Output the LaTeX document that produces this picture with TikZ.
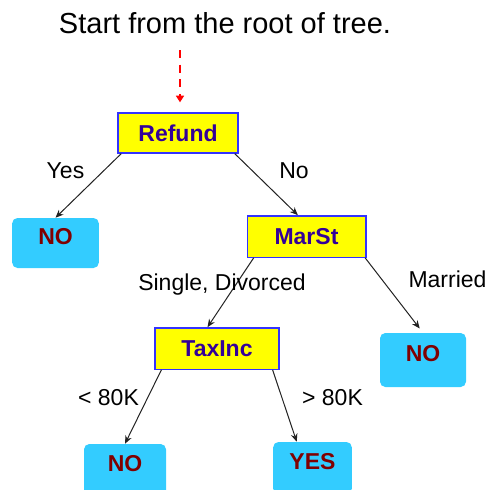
\documentclass[tikz,border=0pt]{standalone}
\usepackage{fontspec}
\setmainfont{Liberation Sans}
\usepackage{tikz}
\usetikzlibrary{positioning,arrows.meta}
\definecolor{attrFill}{HTML}{FFFF00}
\definecolor{attrDraw}{HTML}{3333FF}
\definecolor{attrText}{HTML}{330099}
\definecolor{leafFill}{HTML}{33CCFF}
\definecolor{leafText}{HTML}{800000}
\definecolor{edgeGray}{HTML}{222222}
\definecolor{startRed}{HTML}{FF0000}
\tikzset{
  attr/.style={rectangle, draw=attrDraw, fill=attrFill, line width=1pt,
               minimum height=30pt, inner sep=0pt, text=attrText,
               font=\fontsize{17.25}{20}\selectfont\bfseries},
  leaf/.style={rectangle, rounded corners=4pt, fill=leafFill, minimum height=39pt,
               inner sep=0pt, text height=12.75pt, text depth=10.5pt, text=leafText,
               font=\fontsize{17.25}{20}\selectfont\bfseries},
  lbl/.style={anchor=base, inner sep=0pt, font=\fontsize{17.25}{20}\selectfont},
  title/.style={anchor=base, inner sep=0pt, font=\fontsize{21.75}{26}\selectfont},
  branch/.style={-{Stealth[length=6pt, width=5pt]}, line width=0.75pt, draw=edgeGray},
  startflow/.style={-{Triangle[length=5pt, width=6pt]}, line width=1.5pt, draw=startRed,
                    dash pattern=on 6pt off 5pt}
}
\begin{document}
\begin{tikzpicture}[x=0.75pt, y=-0.75pt]
\useasboundingbox (0,0) rectangle (488,490);
\node[title] (head) at (225,33) {Start from the root of tree.};
\coordinate (start) at (180,50);
\node[attr, minimum width=90pt] (refund) at (178,133) {Refund};
\node[attr, minimum width=89pt, minimum height=31pt] (marst) at (306.5,236.5) {MarSt};
\node[attr, minimum width=93pt, minimum height=31pt] (taxinc) at (217,348.5) {TaxInc};
\node[leaf, minimum width=65pt, minimum height=37.5pt] (noRefund) at (55.5,243) {NO};
\node[leaf, minimum width=64.5pt, minimum height=40.5pt] (noMarried) at (423,360) {NO};
\node[leaf, minimum width=61.5pt] (noLow) at (125,470) {NO};
\node[leaf, minimum width=59pt] (yesHigh) at (312.5,468) {YES};
\draw[startflow] (start) -- (start |- refund.north) [shorten >=7.5pt];
\draw[branch] (refund.-160) -- (noRefund.north);
\draw[branch] (refund.-20) -- (marst.112);
\draw[branch] (marst.-158) -- (taxinc.114);
\draw[branch, shorten >=4pt] (marst.-20) -- (noMarried.north);
\draw[branch] (taxinc.-159) -- (noLow.north);
\draw[branch] (taxinc.-21.5) -- (yesHigh.121);
\node[lbl] (yesLbl) at (65.5,178) {Yes};
\node[lbl] (noLbl) at (294,178) {No};
\node[lbl] (singleLbl) at (222,290) {Single, Divorced};
\node[lbl] (marriedLbl) at (447.5,287) {Married};
\node[lbl] (lowLbl) at (108.5,405) {< 80K};
\node[lbl] (highLbl) at (332.5,405) {> 80K};
\end{tikzpicture}
\end{document}
